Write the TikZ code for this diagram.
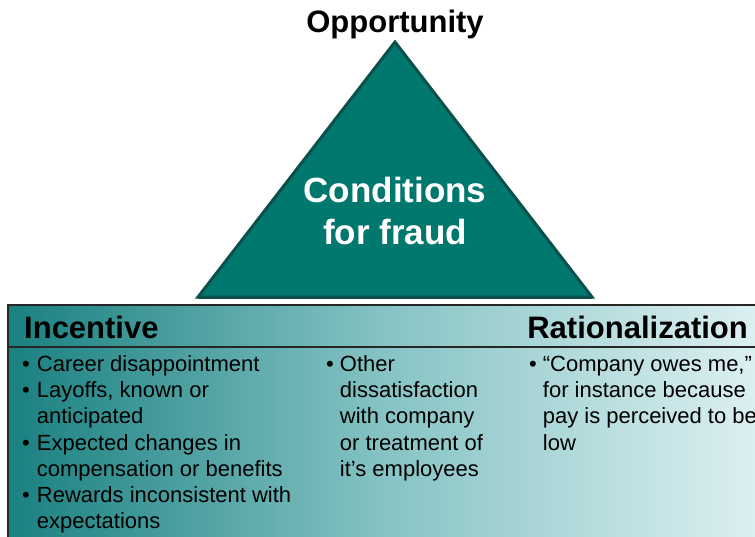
\documentclass[tikz,border=0pt]{standalone}
\usepackage{fontspec}
\setmainfont{Liberation Sans}
\usetikzlibrary{calc}
\definecolor{tri}{HTML}{00786E}
\definecolor{triedge}{HTML}{0B504B}
\definecolor{gradL}{HTML}{1A8080}
\definecolor{gradM}{HTML}{86C3C4}
\definecolor{gradR}{HTML}{DDF0F2}
\tikzset{
  head/.style={font=\fontsize{31}{34}\selectfont\bfseries, inner sep=0pt},
  items/.style={font=\fontsize{22}{26.2}\selectfont, inner sep=0pt, anchor=north west, align=left},
}
\begin{document}
\begin{tikzpicture}[x=1pt,y=-1pt]
\useasboundingbox (0,0) rectangle (755,536);
\clip (0,0) rectangle (755,536);
% panel
\shade[left color=gradL, right color=gradR, middle color=gradM] (8,305) rectangle (760,545);
\draw[line width=1.5pt, black!85] (8,545) -- (8,305) -- (760,305);
\draw[line width=1.2pt, black!85] (8,347) -- (760,347);
% triangle
\coordinate (A) at (395,42);
\coordinate (B) at (198,297);
\coordinate (C) at (592,297);
\fill[tri, draw=triedge, line width=3pt, line join=miter] (A) -- (B) -- (C) -- cycle;
\draw[triedge, line width=3pt] (B) -- (C);
\node[font=\fontsize{31}{34}\selectfont\bfseries, inner sep=0pt] (opp) at (395,24) {Opportunity};
\node[font=\fontsize{35}{42}\selectfont\bfseries, text=white, align=center, inner sep=0pt] (cond) at (395,211) {Conditions\\for fraud};
% headings
\node[head, anchor=west] (inc) at (24,327) {Incentive};
\node[head, anchor=east] (rat) at (748,327) {Rationalization};
% items
\node[items] (c1) at (22,353) {\begin{tabular}{@{}l@{\hspace{7pt}}l@{}}
\textbullet & Career disappointment\\
\textbullet & Layoffs, known or\\
 & anticipated\\
\textbullet & Expected changes in\\
 & compensation or benefits\\
\textbullet & Rewards inconsistent with\\
 & expectations
\end{tabular}};
\node[items] (c2) at (326,353) {\begin{tabular}{@{}l@{\hspace{6pt}}l@{}}
\textbullet & Other\\
 & dissatisfaction\\
 & with company\\
 & or treatment of\\
 & it’s employees
\end{tabular}};
\node[items] (c3) at (529,353) {\begin{tabular}{@{}l@{\hspace{6pt}}l@{}}
\textbullet & “Company owes me,”\\
 & for instance because\\
 & pay is perceived to be\\
 & low
\end{tabular}};
\end{tikzpicture}
\end{document}
